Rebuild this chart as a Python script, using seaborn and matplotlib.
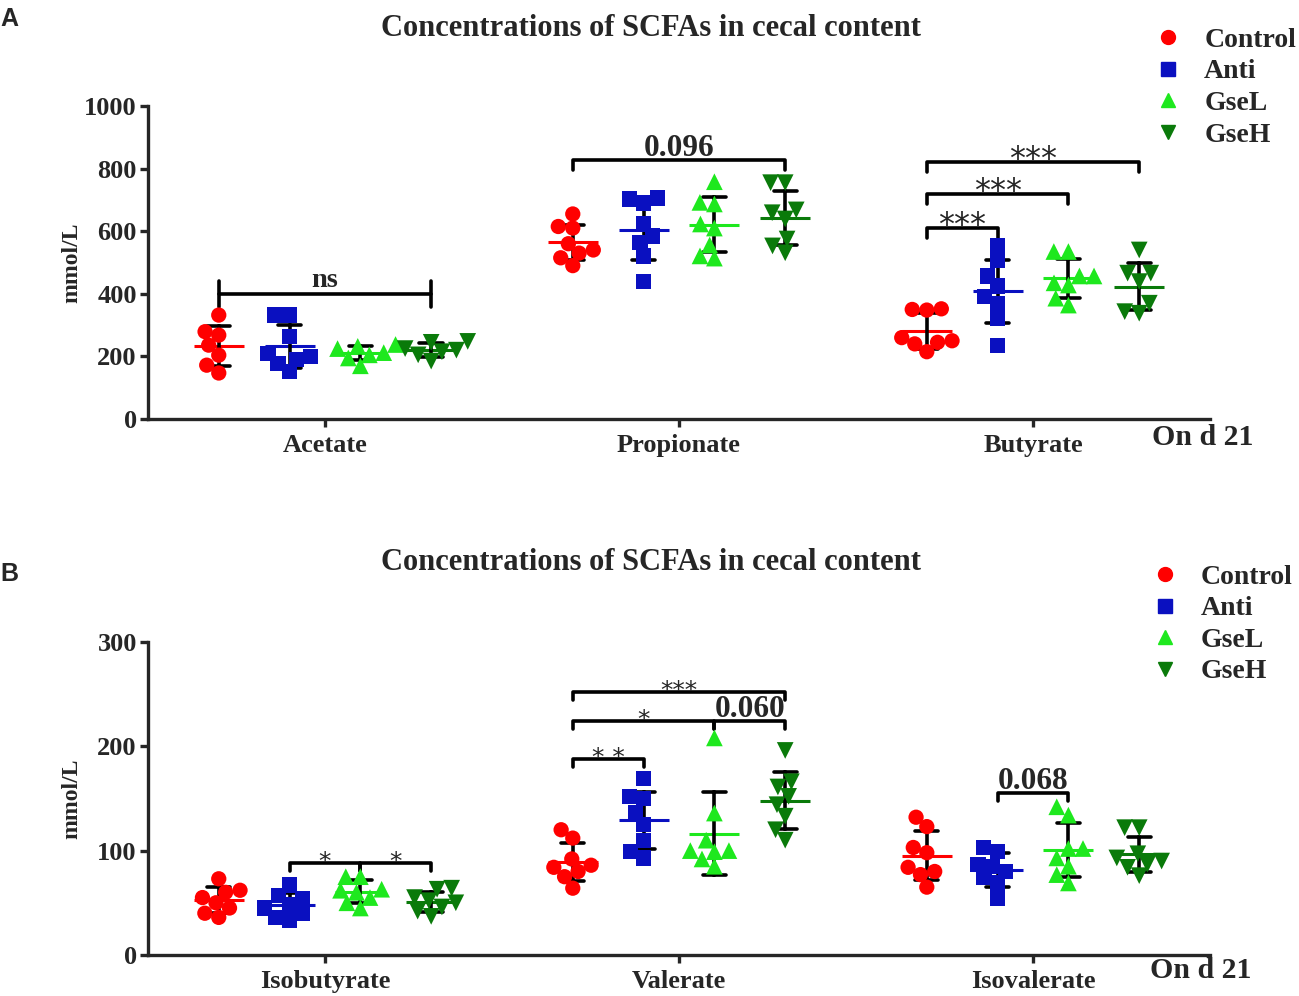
import numpy as np
import pandas as pd
import matplotlib
matplotlib.use("Agg")
import matplotlib.pyplot as plt
from matplotlib.lines import Line2D
import seaborn as sns

# ── Data (mmol/L, one value per animal) ──────────────────────────────────
groups = ["Control", "Anti", "GseL", "GseH"]
palette = {"Control": "#ff0000", "Anti": "#0a10c0", "GseL": "#1ee81e", "GseH": "#0a7a0a"}
markers = {"Control": "o", "Anti": "s", "GseL": "^", "GseH": "v"}
msize = {"Control": 11, "Anti": 11, "GseL": 12, "GseH": 12}

acids_a = ["Acetate", "Propionate", "Butyrate"]
acids_b = ["Isobutyrate", "Valerate", "Isovalerate"]

acetate = {
    "Control": [332, 279, 268, 236, 204, 172, 147],
    "Anti": [332, 332, 263, 210, 200, 190, 178, 151],
    "GseL": [238, 232, 225, 212, 205, 195, 170],
    "GseH": [245, 248, 225, 220, 215, 205, 185],
}
propionate = {
    "Control": [655, 615, 610, 560, 540, 530, 515, 490],
    "Anti": [703, 706, 690, 623, 585, 564, 521, 439],
    "GseL": [758, 687, 692, 623, 610, 556, 521, 514],
    "GseH": [755, 755, 659, 668, 639, 575, 553, 531],
}
butyrate = {
    "Control": [350, 352, 348, 260, 250, 245, 240, 215],
    "Anti": [553, 508, 457, 425, 391, 370, 323, 236],
    "GseL": [535, 535, 457, 457, 435, 428, 364, 386],
    "GseH": [540, 466, 466, 439, 370, 338, 343],
}
isobutyrate = {
    "Control": [73, 62, 60, 55, 50, 45, 40, 36],
    "Anti": [67, 57, 54, 48, 45, 40, 36, 33],
    "GseL": [75, 75, 63, 62, 60, 55, 50, 45],
    "GseH": [64, 63, 55, 52, 50, 46, 42, 37],
}
valerate = {
    "Control": [120, 112, 92, 86, 84, 80, 75, 64],
    "Anti": [169, 152, 150, 136, 125, 110, 99, 93],
    "GseL": [208, 136, 110, 100, 99, 100, 92, 85],
    "GseH": [196, 166, 161, 152, 144, 133, 120, 110],
}
isovalerate = {
    "Control": [132, 123, 103, 98, 84, 80, 77, 65],
    "Anti": [103, 99, 87, 85, 80, 74, 69, 54],
    "GseL": [142, 134, 102, 102, 93, 85, 77, 69],
    "GseH": [122, 122, 97, 93, 90, 87, 84, 76],
}

# (acid, group from, group to, bracket height, label)
brackets_a = [
    ("Acetate", "Control", "GseH", 399, "ns"),
    ("Propionate", "Control", "GseH", 827, "0.096"),
    ("Butyrate", "Control", "Anti", 610, "***"),
    ("Butyrate", "Control", "GseL", 719, "***"),
    ("Butyrate", "Control", "GseH", 821, "***"),
]
brackets_b = [
    ("Isobutyrate", "Anti", "GseL", 88, "*"),
    ("Isobutyrate", "GseL", "GseH", 88, "*"),
    ("Valerate", "Control", "Anti", 188, "* *"),
    ("Valerate", "Control", "GseL", 224, "*"),
    ("Valerate", "GseL", "GseH", 224, "0.060"),
    ("Valerate", "Control", "GseH", 252, "***"),
    ("Isovalerate", "Anti", "GseL", 155, "0.068"),
]

yticks_a = [0, 200, 400, 600, 800, 1000]
yticks_b = [0, 100, 200, 300]
title = "Concentrations of SCFAs in cecal content"


def long_frame(acid_data):
    rows = []
    for acid, d in acid_data.items():
        for g in groups:
            for v in d[g]:
                rows.append((acid, g, v))
    return pd.DataFrame(rows, columns=["acid", "group", "value"])


df_a = long_frame({"Acetate": acetate, "Propionate": propionate, "Butyrate": butyrate})
df_b = long_frame({"Isobutyrate": isobutyrate, "Valerate": valerate, "Isovalerate": isovalerate})

# ── Style ────────────────────────────────────────────────────────────────
sns.set_style("ticks")
plt.rcParams["font.family"] = ["Liberation Serif", "DejaVu Serif"]
plt.rcParams["font.weight"] = "bold"
plt.rcParams["axes.labelweight"] = "bold"

DODGE = 0.6
offsets = dict(zip(groups, np.linspace(-DODGE / 2, DODGE / 2, len(groups))))
SWARM_LAYOUT_SIZE = 10   # slightly tighter packing, markers may overlap as in Prism

fig = plt.figure(figsize=(12.99, 9.96), dpi=100)
ax_a = fig.add_axes([0.1139, 0.5793, 0.8176, 0.3143])
ax_b = fig.add_axes([0.1139, 0.0412, 0.8176, 0.3143])

swarm_colls = []   # (collection, display size)


def draw_panel(ax, df, order, ymax, yticks, brackets, tick_h, star_size):
    for g in groups:
        n0 = len(ax.collections)
        sns.swarmplot(data=df[df["group"] == g], x="acid", y="value", hue="group",
                      order=order, hue_order=groups, dodge=True, palette=palette,
                      marker=markers[g], size=SWARM_LAYOUT_SIZE, linewidth=0,
                      legend=False, warn_thresh=1, ax=ax)
        for c in ax.collections[n0:]:
            swarm_colls.append((c, msize[g]))
    sns.pointplot(data=df, x="acid", y="value", hue="group", order=order,
                  hue_order=groups, palette=palette, dodge=DODGE, errorbar="sd",
                  capsize=0.066, markers="_", linestyle="none", markersize=36,
                  markeredgewidth=2.2, err_kws={"color": "k", "linewidth": 2.6},
                  legend=False, ax=ax)

    # significance brackets
    for acid, g1, g2, y, lab in brackets:
        x1 = order.index(acid) + offsets[g1]
        x2 = order.index(acid) + offsets[g2]
        if lab == "ns":
            ax.plot([x1, x2], [y, y], color="k", lw=2.6)
            for x in (x1, x2):
                ax.plot([x, x], [y - 1.3 * tick_h, y + 1.3 * tick_h], color="k", lw=2.6)
        else:
            ax.plot([x1, x1, x2, x2], [y - tick_h, y, y, y - tick_h], color="k",
                    lw=2.6, solid_joinstyle="round", solid_capstyle="round")
        xm = (x1 + x2) / 2
        if lab.startswith("*"):
            ax.annotate(lab, (xm, y), xytext=(0, -4.5), textcoords="offset points",
                        ha="center", va="baseline", fontsize=star_size,
                        family="DejaVu Sans", fontweight="normal")
        elif lab == "ns":
            ax.annotate(lab, (xm, y), xytext=(0, 5), textcoords="offset points",
                        ha="center", va="baseline", fontsize=20.5)
        else:
            ax.annotate(lab, (xm, y), xytext=(0, 3), textcoords="offset points",
                        ha="center", va="baseline", fontsize=22.5)

    ax.set_xlim(-0.5, 2.5)
    ax.set_ylim(0, ymax)
    ax.set_yticks(yticks)
    sns.despine(ax=ax)
    for s in ["left", "bottom"]:
        ax.spines[s].set_linewidth(2.4)
    ax.tick_params(width=2.4, length=6, labelsize=19)
    ax.tick_params(axis="x", pad=5)
    ax.tick_params(axis="y", pad=2)
    ax.set_xlabel("")
    ax.set_ylabel("mmol/L", fontsize=17)
    ax.yaxis.set_label_coords(-0.062, 0.5)


draw_panel(ax_a, df_a, acids_a, 1000, yticks_a, brackets_a, 32, 23)
draw_panel(ax_b, df_b, acids_b, 300, yticks_b, brackets_b, 7.7, 18)

# titles, panel letters, day labels
fig.text(0.501, 0.971, title, ha="center", va="center", fontsize=22)
fig.text(0.501, 0.435, title, ha="center", va="center", fontsize=22)
fig.text(0.0, 0.981, "A", ha="left", va="center", fontsize=18,
         family="Liberation Sans", fontweight="bold")
fig.text(0.0, 0.424, "B", ha="left", va="center", fontsize=18,
         family="Liberation Sans", fontweight="bold")
fig.text(0.887, 0.561, "On d 21", ha="left", va="center", fontsize=21.5)
fig.text(0.885, 0.026, "On d 21", ha="left", va="center", fontsize=21.5)

# legends
handles = [Line2D([], [], linestyle="none", marker=markers[g], color=palette[g],
                  markersize=10) for g in groups]
for ax, anchor in [(ax_a, (0.8885, 0.9725)), (ax_b, (0.886, 0.4335))]:
    ax.legend(handles, groups, loc="upper left", bbox_to_anchor=anchor,
              bbox_transform=fig.transFigure, frameon=False, fontsize=20,
              handlelength=1.0, handletextpad=0.8, labelspacing=0.22,
              borderpad=0, borderaxespad=0)

# lay the swarms out once with the layout size, then freeze and enlarge markers
fig.canvas.draw()
for coll, s in swarm_colls:
    if "draw" in coll.__dict__:
        del coll.draw
    coll.set_sizes([s ** 2])

fig.savefig("out.png", dpi=100)
